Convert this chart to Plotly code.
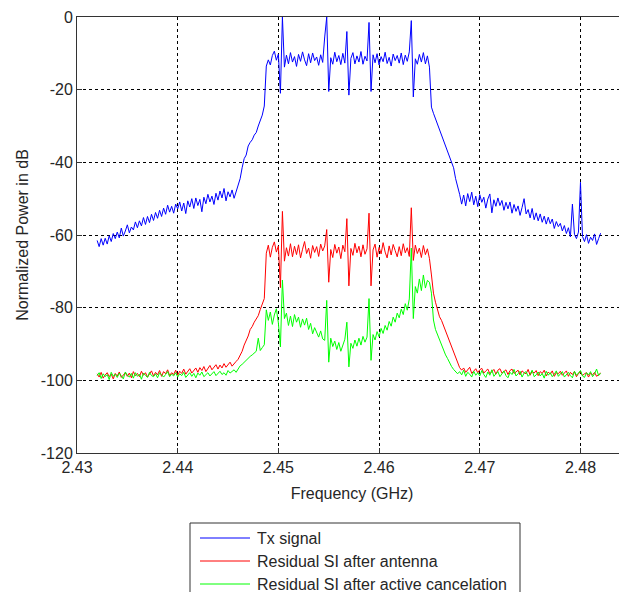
import plotly.graph_objects as go

# Frequency sampling grid (GHz): start and step of the measured spectrum
F_START = 2.432
F_STEP = 0.0002

tx_signal = [
    -61.5, -63.2, -61.0, -62.8, -60.9, -62.5, -60.2, -61.8, -59.6, -61.0,
    -59.2, -60.8, -58.1, -60.3, -58.9, -57.2, -59.4, -57.8, -58.6, -56.4,
    -58.0, -56.1, -57.5, -55.2, -57.1, -54.9, -56.6, -54.3, -56.0, -53.8,
    -55.4, -53.2, -54.9, -52.6, -54.3, -51.8, -53.7, -52.1, -54.0, -51.5,
    -52.8, -50.9, -53.4, -51.2, -54.1, -50.6, -52.3, -50.0, -52.7, -49.8,
    -51.9, -50.2, -53.6, -49.6, -51.4, -48.8, -50.9, -49.3, -51.6, -48.5,
    -50.4, -47.9, -49.8, -47.2, -50.6, -48.1, -49.5, -47.6, -49.9, -48.0,
    -46.0, -44.5, -41.5, -39.0, -38.0, -35.5, -34.5, -33.8, -32.5, -31.8,
    -30.0, -28.5, -27.0, -24.5, -13.5, -11.8, -13.2, -10.6, -9.4, -11.9,
    -10.2, -21.0, 0.0, -13.8, -10.5, -12.9, -9.8, -12.4, -10.9, -13.6,
    -10.3, -12.2, -9.6, -11.8, -13.4, -10.1, -12.6, -9.9, -12.0, -11.0,
    -13.3, -10.4, -12.5, -5.5, 0.0, -20.5, -11.2, -13.0, -9.7, -12.3,
    -10.6, -13.1, -10.0, -12.7, -4.0, -21.5, -11.4, -9.8, -12.9, -10.7,
    -12.4, -9.5, -13.0, -10.8, -12.1, -1.5, -20.5, -10.4, -12.6, -10.1,
    -13.2, -10.9, -12.3, -9.7, -12.8, -11.1, -13.5, -10.2, -12.0, -10.6,
    -12.7, -9.9, -13.1, -10.5, -12.2, -9.6, -1.0, -22.0, -11.5, -13.0,
    -10.3, -12.4, -9.8, -12.9, -10.7, -13.8, -24.8, -26.5, -28.0, -29.0,
    -31.0, -32.0, -33.8, -35.0, -36.5, -38.0, -40.0, -41.5, -44.5, -46.5,
    -48.8, -51.5, -49.0, -52.0, -48.6, -50.8, -48.2, -51.7, -49.3, -52.2,
    -48.9, -51.0, -49.6, -52.6, -50.1, -48.7, -53.9, -50.3, -52.1, -49.8,
    -51.9, -50.5, -53.2, -51.0, -52.8, -50.9, -54.0, -51.6, -53.5, -52.0,
    -54.6, -52.4, -50.0, -54.2, -53.0, -55.3, -52.7, -55.8, -53.9, -56.1,
    -54.2, -56.5, -54.8, -57.0, -55.1, -56.9, -55.6, -58.2, -56.3, -57.7,
    -56.8, -58.9, -57.4, -59.6, -58.0, -60.5, -51.5, -59.8, -61.0, -59.2,
    -45.5, -60.4, -61.8, -59.9, -62.3, -60.6, -61.5, -59.7, -62.6, -61.0,
    -59.5,
]

residual_antenna = [
    -98.2, -99.1, -97.8, -99.4, -98.5, -97.9, -99.0, -98.3, -99.6, -98.1,
    -98.8, -97.7, -99.2, -98.4, -97.9, -98.9, -98.0, -99.3, -97.6, -98.7,
    -98.1, -99.0, -97.5, -98.6, -97.9, -99.1, -98.2, -97.4, -98.8, -97.8,
    -98.5, -97.3, -98.9, -97.6, -98.2, -97.1, -98.7, -97.9, -98.4, -97.2,
    -98.6, -97.5, -98.1, -96.9, -98.3, -97.4, -96.8, -98.0, -97.2, -96.6,
    -97.8, -96.5, -97.3, -96.2, -97.6, -96.8, -95.9, -97.1, -96.3, -95.7,
    -96.9, -95.8, -96.6, -95.4, -96.4, -95.6, -95.0, -96.1, -95.3, -94.8,
    -94.2, -93.0, -92.0, -90.3, -89.2, -87.8, -86.0, -85.2, -84.0, -83.1,
    -82.2, -80.5, -79.0, -77.5, -65.0, -62.8, -66.1, -63.4, -61.9, -64.7,
    -63.0, -74.5, -53.5, -67.2, -63.5, -65.8, -62.4, -66.0, -63.1, -65.4,
    -62.7, -66.3, -63.9, -61.8, -65.1, -63.6, -66.4, -62.9, -64.8, -63.2,
    -65.9, -62.5, -64.4, -63.0, -58.5, -73.0, -64.0, -66.2, -62.6, -65.0,
    -63.3, -66.5, -62.8, -64.6, -55.5, -74.0, -63.7, -65.6, -62.3, -64.9,
    -63.1, -66.0, -62.7, -65.3, -63.8, -54.0, -74.0, -64.1, -62.5, -66.1,
    -63.4, -65.2, -62.1, -64.7, -66.3, -63.0, -65.5, -62.6, -64.3, -66.0,
    -63.2, -65.7, -62.4, -64.9, -63.5, -65.9, -52.5, -67.0, -62.8, -65.1,
    -63.6, -66.2, -62.9, -65.4, -63.8, -66.5, -71.0, -76.0, -78.5, -80.5,
    -82.5, -83.5, -85.0, -86.5, -88.0, -89.5, -91.0, -92.5, -94.0, -95.5,
    -96.5, -97.2, -96.6, -97.8, -97.0, -96.4, -98.1, -97.3, -96.8, -97.9,
    -97.1, -96.7, -98.0, -97.4, -96.9, -98.2, -97.5, -97.0, -98.3, -97.2,
    -96.8, -98.0, -97.6, -97.1, -98.4, -97.3, -96.9, -98.1, -97.7, -97.2,
    -98.5, -97.4, -97.9, -98.2, -97.0, -98.6, -97.5, -98.0, -97.3, -98.7,
    -97.6, -98.1, -97.2, -98.8, -97.7, -98.3, -97.4, -98.9, -97.9, -98.2,
    -97.5, -98.6, -98.0, -97.4, -98.9, -97.8, -98.4, -97.6, -99.0, -98.1,
    -97.7, -98.7, -98.2, -97.9, -99.1, -98.0, -98.5, -97.8, -98.9, -98.3,
    -98.0,
]

residual_active = [
    -98.7, -97.9, -99.5, -98.2, -99.0, -98.4, -99.8, -97.8, -98.9, -98.3,
    -99.2, -98.0, -98.8, -99.6, -97.7, -98.6, -99.1, -98.1, -99.4, -97.9,
    -98.9, -98.3, -99.7, -98.0, -98.6, -99.2, -97.8, -98.7, -99.0, -98.2,
    -99.3, -97.9, -98.5, -99.1, -98.4, -97.6, -99.0, -98.3, -98.8, -97.9,
    -99.1, -98.2, -98.7, -97.8, -99.2, -98.5, -97.9, -98.9, -98.1, -99.3,
    -98.0, -98.6, -97.7, -99.0, -98.3, -97.9, -98.8, -98.2, -97.6, -98.7,
    -98.1, -97.5, -98.4, -97.9, -98.6, -97.3, -98.0, -97.6, -97.1, -97.8,
    -96.8, -96.0, -95.6, -95.0, -94.5, -94.0, -93.4, -93.0, -92.4, -92.0,
    -88.4, -91.8, -91.0, -90.2, -80.6, -83.5, -81.2, -84.6, -82.0, -80.3,
    -84.2, -90.8, -72.4, -83.0, -81.5, -84.9, -82.3, -85.2, -81.9, -84.0,
    -82.6, -85.4, -83.1, -84.8, -82.9, -86.0, -84.3, -87.2, -85.5, -86.8,
    -88.1, -86.4, -88.6, -89.0, -78.0, -95.0, -88.4, -90.7, -89.2, -91.5,
    -89.6, -92.0, -90.1, -88.7, -84.0, -96.3, -89.8, -91.2, -88.9, -90.6,
    -88.4, -90.3, -87.9, -89.5, -88.1, -77.5, -94.5, -87.4, -88.9, -86.6,
    -88.0, -85.7, -87.1, -84.9, -86.2, -83.8, -85.1, -82.6, -84.0, -81.5,
    -82.8, -80.4, -81.9, -78.9, -80.7, -77.6, -63.6, -83.0, -74.2, -76.0,
    -72.1, -75.3, -71.0, -74.6, -72.5, -73.0, -76.0, -83.4, -86.0, -87.5,
    -89.0, -90.3, -91.5, -93.0, -94.0, -95.2, -96.2, -97.0, -97.5, -98.2,
    -97.6, -98.5, -97.2, -98.9, -97.8, -98.3, -99.1, -97.5, -98.6, -97.9,
    -98.8, -97.3, -98.4, -99.2, -97.7, -98.6, -97.1, -98.9, -98.2, -97.6,
    -99.0, -98.1, -97.4, -98.7, -99.3, -97.8, -98.4, -97.0, -98.8, -98.2,
    -97.5, -99.1, -98.0, -97.6, -98.9, -98.3, -97.2, -99.0, -98.5, -97.7,
    -98.8, -98.1, -99.4, -97.5, -98.6, -97.9, -99.0, -98.3, -97.4, -98.9,
    -98.2, -97.6, -99.1, -98.4, -97.8, -98.7, -99.3, -97.5, -98.6, -98.0,
    -97.3, -98.8, -99.2, -97.9, -98.5, -97.6, -99.0, -98.2, -96.9, -98.7,
    -98.1,
]

x_ticks = [2.43, 2.44, 2.45, 2.46, 2.47, 2.48]
x_tick_labels = ["2.43", "2.44", "2.45", "2.46", "2.47", "2.48"]
y_ticks = [-120, -100, -80, -60, -40, -20, 0]
y_tick_labels = ["-120", "-100", "-80", "-60", "-40", "-20", "0"]

series_names = ["Tx signal", "Residual SI after antenna", "Residual SI after active cancelation"]
series_colors = ["#0000ff", "#ff0000", "#00ff00"]

freq = [round(F_START + F_STEP * i, 4) for i in range(len(tx_signal))]

FONT = "Liberation Sans, Arial, Helvetica, sans-serif"
TEXT_COLOR = "#262626"
FRAME = "#333333"

# page body adds an 8px offset; figure is sized to fill the rest of the window
FIG_W, FIG_H = 619, 584
M_L, M_T, M_R = 69, 9, 0
PLOT_H = 436
M_B = FIG_H - M_T - PLOT_H
PLOT_W = FIG_W - M_L - M_R

# window-pixel helpers (window = figure offset by 8px)
def px_to_paper_x(px):
    return (px - 8 - M_L) / PLOT_W

def py_to_paper_y(py):
    return (M_T + PLOT_H - (py - 8)) / PLOT_H

fig = go.Figure()
for name, values, color in zip(series_names, [tx_signal, residual_antenna, residual_active], series_colors):
    fig.add_trace(go.Scatter(
        x=freq, y=values, mode="lines", name=name,
        line=dict(color=color, width=1),
    ))

# legend box (MATLAB style, partly cut off by the bottom of the window)
shapes = [dict(
    type="rect", xref="paper", yref="paper",
    x0=px_to_paper_x(190), x1=px_to_paper_x(520),
    y0=py_to_paper_y(640), y1=py_to_paper_y(523),
    line=dict(color=FRAME, width=1), fillcolor="white", layer="above",
)]
annotations = []
entry_rows = [538, 561, 584]
for name, color, row in zip(series_names, series_colors, entry_rows):
    shapes.append(dict(
        type="line", xref="paper", yref="paper",
        x0=px_to_paper_x(200), x1=px_to_paper_x(250),
        y0=py_to_paper_y(row), y1=py_to_paper_y(row),
        line=dict(color=color, width=1), layer="above",
    ))
    annotations.append(dict(
        xref="paper", yref="paper", x=px_to_paper_x(255), y=py_to_paper_y(row),
        xanchor="left", yanchor="middle", text=name, showarrow=False,
        font=dict(family=FONT, size=16, color=TEXT_COLOR),
    ))

fig.update_layout(
    width=FIG_W, height=FIG_H,
    margin=dict(l=M_L, r=M_R, t=M_T, b=M_B, autoexpand=False),
    paper_bgcolor="white", plot_bgcolor="white",
    font=dict(family=FONT, size=16, color=TEXT_COLOR),
    showlegend=False,
    shapes=shapes,
    annotations=annotations,
)

fig.update_xaxes(
    range=[2.43, 2.48462],
    tickvals=x_ticks, ticktext=x_tick_labels,
    showline=True, linecolor=FRAME, linewidth=1, mirror=True,
    ticks="inside", ticklen=5, tickcolor=FRAME,
    showgrid=True, gridcolor="#000000", gridwidth=1, griddash="dot",
    zeroline=False,
    tickfont=dict(size=16, color=TEXT_COLOR),
    title=dict(text="Frequency (GHz)", font=dict(size=16, color=TEXT_COLOR), standoff=12),
)
fig.update_yaxes(
    range=[-120, 0],
    tickvals=y_ticks, ticktext=y_tick_labels,
    showline=True, linecolor=FRAME, linewidth=1, mirror=False,
    ticks="inside", ticklen=5, tickcolor=FRAME,
    showgrid=True, gridcolor="#000000", gridwidth=1, griddash="dot",
    zeroline=False,
    tickfont=dict(size=16, color=TEXT_COLOR),
    title=dict(text="Normalized Power in dB", font=dict(size=16, color=TEXT_COLOR), standoff=8),
)

fig.write_html("out.html")
